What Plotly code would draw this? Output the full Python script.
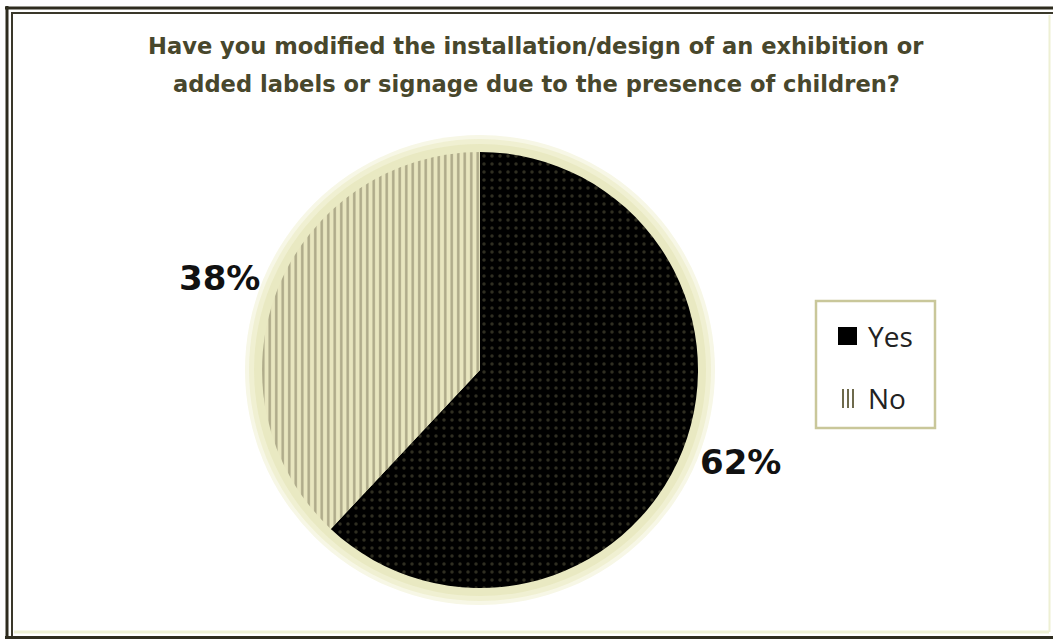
import math
import plotly.graph_objects as go

labels = ["Yes", "No"]
values = [62, 38]
title_lines = ["Have you modified the installation/design of an exhibition or",
               "added labels or signage due to the presence of children?"]

W, H = 1053, 639
cx, cy, r = 480, 370, 218

def px(x):
    return x / W

def py(y):
    return 1 - y / H

fig = go.Figure()
fig.add_trace(go.Pie(
    labels=labels, values=values, sort=False, direction="clockwise", rotation=0,
    domain=dict(x=[px(cx - r), px(cx + r)], y=[py(cy + r), py(cy - r)]),
    marker=dict(
        colors=["#000000", "#e8e6bf"],
        line=dict(width=0),
        pattern=dict(shape=[".", "|"], fgcolor=["#5e5b42", "#726d52"],
                     bgcolor=["#000000", "#e8e6bf"], size=[8, 6.5], solidity=[0.15, 0.38],
                     fillmode="overlay"),
    ),
    textinfo="none",
    showlegend=False, hoverinfo="label+percent",
))

shapes = []
# glow around the pie
for dr, col in [(17, "#f7f7e6"), (13, "#f0f0d2"), (8, "#e9e9c2")]:
    shapes.append(dict(type="circle", xref="paper", yref="paper", layer="below",
                       x0=px(cx - r - dr), x1=px(cx + r + dr),
                       y0=py(cy + r + dr), y1=py(cy - r - dr),
                       fillcolor=col, line=dict(width=0)))

def hline(y, x0, x1, col, w):
    shapes.append(dict(type="line", xref="paper", yref="paper", x0=px(x0), x1=px(x1),
                       y0=py(y), y1=py(y), line=dict(color=col, width=w)))

def vline(x, y0, y1, col, w):
    shapes.append(dict(type="line", xref="paper", yref="paper", x0=px(x), x1=px(x),
                       y0=py(y0), y1=py(y1), line=dict(color=col, width=w)))

# outer double border (cropped at right / bottom)
hline(8, 5, 1053, "#2e2c1f", 3)
hline(13, 11, 1053, "#3a382a", 2)
vline(7, 6, 639, "#2e2c1f", 3)
vline(12, 12, 636, "#3a382a", 2)
hline(637.5, 5, 1053, "#2e2c1f", 3)
hline(632, 14, 1049, "#eef0d4", 3)
vline(1049.5, 15, 632, "#eef0d4", 2)

# legend box
shapes.append(dict(type="rect", xref="paper", yref="paper", x0=px(816), x1=px(935), y0=py(428), y1=py(301),
                   line=dict(color="#c9c79a", width=2.5), fillcolor="#ffffff"))
# legend swatch: Yes
shapes.append(dict(type="rect", xref="paper", yref="paper", x0=px(838), x1=px(857), y0=py(345), y1=py(327),
                   line=dict(width=0), fillcolor="#000000"))
# legend swatch: No (stripes)
for xx in [843, 848, 853]:
    vline(xx, 408, 389, "#6e6a4c", 2)

annotations = []
for lab, yy in zip(labels, [336, 398]):
    annotations.append(dict(text=lab, xref="paper", yref="paper", x=px(866), y=py(yy),
                            xanchor="left", yanchor="middle", showarrow=False,
                            font=dict(family="Open Sans", size=28, color="#222222")))

# percentage labels placed outside the slices, at the slice mid-angle
total = sum(values)
label_rx, label_ry = 280, 250
cum = 0
for v in values:
    mid = (cum + v / 2) / total * 2 * math.pi
    cum += v
    lx = cx + label_rx * math.sin(mid)
    ly = cy - label_ry * math.cos(mid)
    annotations.append(dict(text=f"{round(100 * v / total)}%", xref="paper", yref="paper",
                            x=px(lx), y=py(ly), xanchor="center", yanchor="middle", showarrow=False,
                            font=dict(family="DejaVu Sans", size=34, color="#111111", weight="bold")))

# title lines
for line, yy in zip(title_lines, [46, 84]):
    annotations.append(dict(text=line, xref="paper", yref="paper", x=px(536), y=py(yy),
                            xanchor="center", yanchor="middle", showarrow=False,
                            font=dict(family="DejaVu Sans", size=22.6, color="#48472c", weight="bold")))

fig.update_layout(
    width=W, height=H,
    margin=dict(l=0, r=0, t=0, b=0),
    paper_bgcolor="#ffffff", plot_bgcolor="#ffffff",
    shapes=shapes, annotations=annotations,
)

fig.write_html("out.html")
